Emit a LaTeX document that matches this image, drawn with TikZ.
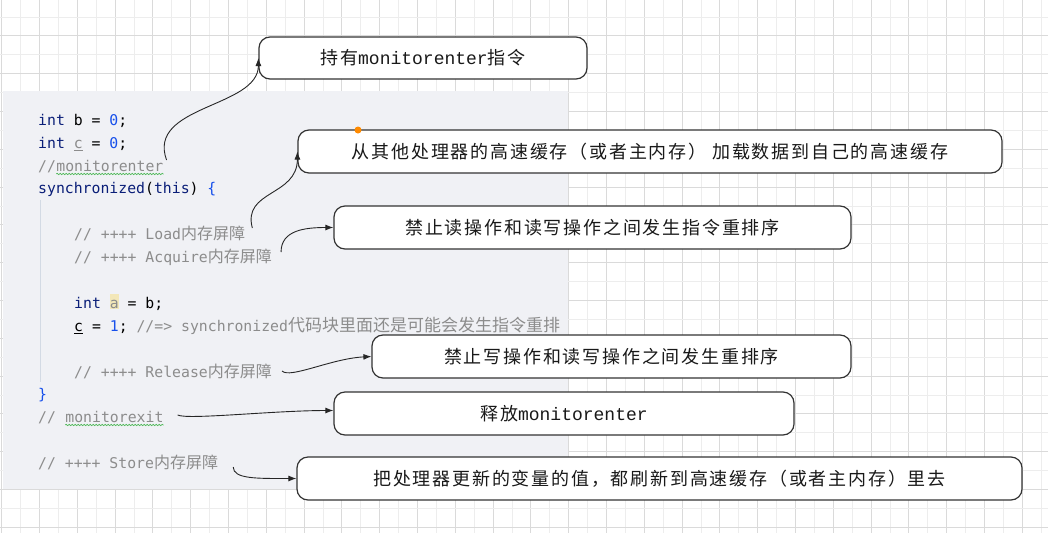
\documentclass[tikz,border=0pt]{standalone}
\usepackage{fontspec}
\usetikzlibrary{arrows.meta,decorations.pathmorphing}
\setmainfont{Noto Sans CJK SC}
\newfontfamily\codefont{DejaVu Sans Mono}
\newfontfamily\codecjk{Noto Sans CJK SC}
\newfontfamily\boxfont[LetterSpace=10]{Noto Sans CJK SC}
\newfontfamily\boxmono{Liberation Mono}
\definecolor{kwcol}{HTML}{0A1E78}
\definecolor{numcol}{HTML}{1750EB}
\definecolor{cmtcol}{HTML}{8C8C8C}
\definecolor{panelcol}{HTML}{F0F1F5}
\definecolor{gridminor}{HTML}{EDEDED}
\definecolor{gridmajor}{HTML}{DADADA}
\definecolor{boxline}{HTML}{333333}
\definecolor{markcol}{HTML}{F3E7B8}
\definecolor{wavecol}{HTML}{45B54F}
\definecolor{guidecol}{HTML}{D3DAE4}
\definecolor{dotcol}{HTML}{FF8A00}
% code colouring
\newcommand\kwd[1]{\textcolor{kwcol}{#1}}
\newcommand\numv[1]{\textcolor{numcol}{#1}}
\newcommand\cmt[1]{\textcolor{cmtcol}{#1}}
\newcommand\zh[1]{{\codecjk\fontsize{16pt}{18pt}\selectfont #1}}
\newcommand\zhl[1]{{\codecjk\fontsize{17pt}{18pt}\selectfont #1}}
\newcommand\uln[1]{\setbox0\hbox{#1}\rlap{\rule[-2.5pt]{\wd0}{0.7pt}}\box0\relax}
\newcommand\markbox[1]{{\setlength\fboxsep{0pt}\colorbox{markcol}{\rule[-1pt]{0pt}{15pt}#1}}}
\tikzset{
  code line/.style={anchor=base west,inner sep=0pt,
                    font={\codefont\fontsize{14.8pt}{18pt}\selectfont}},
  spell wave/.style={wavecol,line width=0.6pt,decorate,
                     decoration={snake,amplitude=0.7pt,segment length=3pt}},
  note box/.style={draw=boxline,line width=1.2pt,fill=white,rounded corners=11pt,
                   minimum height=43pt,inner sep=0pt,text=black!90,
                   font={\boxfont\fontsize{18pt}{20pt}\selectfont}},
  note arrow/.style={-{Latex[length=8pt,width=6pt]},line width=0.9pt,draw=black!85}}

\begin{document}
\begin{tikzpicture}[x=1pt,y=-1pt]
  \def\gs{18.9}  % grid step
  \def\gx{1.7}   % grid offset x
  \def\gy{-1.9}  % grid offset y
  \useasboundingbox (0,0) rectangle (1048,533);
  \fill[white] (0,0) rectangle (1048,533);

  % GRID
  \foreach \i in {0,...,55}{
    \ifodd\i \def\gc{gridminor}\else \def\gc{gridmajor}\fi
    \draw[\gc,line width=1pt] ({\gx+\i*\gs},0) -- ({\gx+\i*\gs},533);
  }
  \foreach \j in {1,...,28}{
    \ifodd\j \def\gc{gridminor}\else \def\gc{gridmajor}\fi
    \draw[\gc,line width=1pt] (0,{\gy+\j*\gs}) -- (1048,{\gy+\j*\gs});
  }

  % CODE
  \fill[panelcol] (3,91) rectangle (568,489); % code panel
  \draw[guidecol,line width=1pt] (40,200) -- (40,382); % indent guide
  \node[code line] (cB)       at (38,125) {\kwd{int} b = \numv{0};};
  \node[code line] (cC)       at (38,148) {\kwd{int} \cmt{\uln{c}} = \numv{0};};
  \node[code line] (cEnter)   at (38,171) {\cmt{//}};
  \node[code line,text=cmtcol] (wEnter) at (cEnter.base east) {monitorenter};
  \node[code line] (cSync)    at (38,193) {\kwd{synchronized}(\kwd{this}) \numv{\{}};
  \node[code line] (cLoad)    at (74,239) {\cmt{// ++++ Load\zh{内存屏障}}};
  \node[code line] (cAcquire) at (74,262) {\cmt{// ++++ Acquire\zh{内存屏障}}};
  \node[code line] (cA)       at (74,308) {\kwd{int} \markbox{\cmt{a}} = b;};
  \node[code line] (cC1)      at (74,331) {\uln{c} = \numv{1}; \cmt{//=> synchronized\zhl{代码块里面还是可能会发生指令重排}}};
  \node[code line] (cRelease) at (74,377) {\cmt{// ++++ Release\zh{内存屏障}}};
  \node[code line] (cClose)   at (38,399) {\numv{\}}};
  \node[code line] (cExit)    at (38,422) {\cmt{//}};
  \node[code line,text=cmtcol] (wExit) at ([xshift=9pt]cExit.base east) {monitorexit};
  \node[code line] (cStore)   at (38,468) {\cmt{// ++++ Store\zh{内存屏障}}};
  \draw[spell wave] ([yshift=-3pt]wEnter.base west) -- ([yshift=-3pt]wEnter.base east);
  \draw[spell wave] ([yshift=-3pt]wExit.base west) -- ([yshift=-3pt]wExit.base east);

  % NOTES
  \node[note box,minimum width=328pt,minimum height=42pt] (b1) at (423,58) {持有{\boxmono monitorenter}指令};
  \node[note box,minimum width=704pt] (b2) at (650,151.5) {从其他处理器的高速缓存（或者主内存） 加载数据到自己的高速缓存};
  \node[note box,minimum width=517pt] (b3) at (592.5,227.5) {禁止读操作和读写操作之间发生指令重排序};
  \node[note box,minimum width=479pt] (b4) at (611.5,356.5) {禁止写操作和读写操作之间发生重排序};
  \node[note box,minimum width=460pt] (b5) at (564,413.5) {释放{\boxmono monitorenter}};
  \node[note box,minimum width=725pt] (b6) at (659.5,478.5) {把处理器更新的变量的值，都刷新到高速缓存（或者主内存）里去};
  \fill[dotcol] (358,130) circle (3.5pt); % selected point

  % ARROWS
  \draw[note arrow] ([shift={(3pt,11pt)}]wEnter.base east) .. controls +(-20,-55) and +(0,50) .. (b1.west);
  \draw[note arrow] ([shift={(7pt,11pt)}]cLoad.base east) .. controls +(-10,-38) and +(0,45) .. (b2.west);
  \draw[note arrow] ([shift={(9pt,10pt)}]cAcquire.base east) .. controls +(0,-22) and +(-28,0) .. (b3.west);
  \draw[note arrow] ([shift={(10pt,6pt)}]cRelease.base east) .. controls +(8,8) and +(-40,2) .. (b4.west);
  \draw[note arrow] ([shift={(14pt,7pt)}]wExit.base east) .. controls +(10,5) and +(-60,0) .. ([yshift=3pt]b5.west);
  \draw[note arrow] ([shift={(15pt,1pt)}]cStore.base east) .. controls +(0,12) and +(-40,0) .. (b6.west);
\end{tikzpicture}
\end{document}
